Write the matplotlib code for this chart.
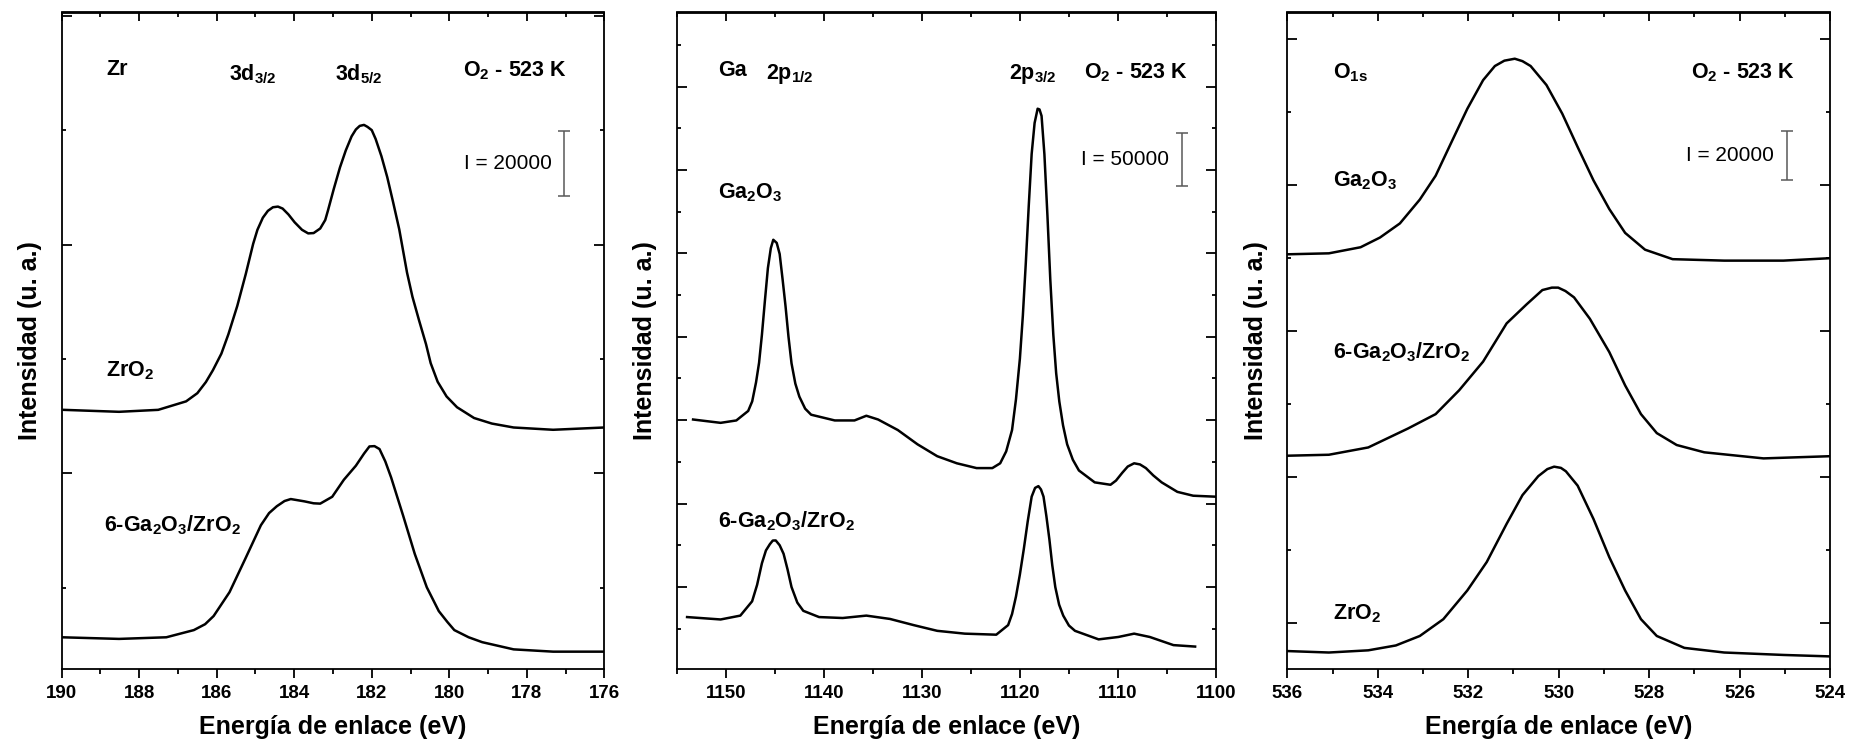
import matplotlib
matplotlib.use('Agg')
import matplotlib.pyplot as plt
from matplotlib.ticker import MultipleLocator

plt.rcParams['font.family'] = ['Liberation Sans', 'DejaVu Sans']
plt.rcParams['font.weight'] = 'bold'
plt.rcParams['mathtext.fontset'] = 'custom'
plt.rcParams['mathtext.rm'] = 'Liberation Sans:bold'
plt.rcParams['mathtext.it'] = 'Liberation Sans:bold'
plt.rcParams['mathtext.bf'] = 'Liberation Sans:bold'
plt.rcParams['mathtext.default'] = 'rm'

# Zr 3d panel (intensity in 1000 counts, curves offset)
zr_ev_zro2 = [189.95, 188.52, 187.51, 186.79, 186.5, 186.28, 186.1, 185.88, 185.7, 185.47,
              185.25, 185.06, 184.95, 184.81, 184.68, 184.55, 184.42, 184.30, 184.15, 183.99,
              183.8, 183.64, 183.5, 183.33, 183.2, 183.13, 182.98, 182.82, 182.67, 182.52,
              182.41, 182.31, 182.2, 182.11, 182.0, 181.9, 181.75, 181.6, 181.45, 181.29,
              181.09, 180.95, 180.78, 180.6, 180.48, 180.3, 180.07, 179.8, 179.36, 178.9,
              178.34, 177.32, 176.0]
zr_int_zro2 = [54.4, 53.8, 54.4, 57.0, 59.5, 62.9, 66.5, 71.6, 77.5, 86.2,
               96.0, 105.2, 109.5, 113.2, 115.3, 116.4, 116.6, 116.0, 114.2, 111.8,
               109.5, 108.4, 108.5, 109.9, 112.5, 115.4, 122.0, 128.6, 133.8, 138.1,
               140.2, 141.3, 141.6, 141.0, 140.0, 137.3, 132.0, 125.6, 118.0, 109.6,
               96.4, 89.0, 81.8, 74.5, 68.7, 63.0, 58.5, 55.2, 51.9, 50.2,
               49.0, 48.3, 49.0]
zr_ev_ga = [190.0, 188.52, 187.30, 186.59, 186.3, 186.08, 185.67, 185.26, 184.86, 184.65,
            184.45, 184.25, 184.09, 183.74, 183.5, 183.33, 183.02, 182.72, 182.41, 182.2,
            182.06, 181.93, 181.80, 181.65, 181.50, 181.19, 180.89, 180.58, 180.27, 180.05,
            179.87, 179.5, 179.15, 178.34, 177.32, 176.0]
zr_int_ga = [-15.2, -15.7, -15.2, -13.0, -11.2, -8.7, -1.4, 8.9, 19.1, 22.8,
             24.9, 26.5, 27.1, 26.4, 25.8, 25.7, 27.8, 33.0, 37.3, 41.0,
             43.2, 43.3, 42.4, 38.6, 33.7, 22.0, 10.3, 0.1, -7.2, -10.5,
             -13.0, -15.2, -16.7, -18.9, -19.6, -19.6]

# Ga 2p panel
ga_ev_ga2o3 = [1153.33, 1150.52, 1148.92, 1147.71, 1147.3, 1146.91, 1146.6, 1146.31, 1146.0, 1145.70,
               1145.4, 1145.15, 1144.8, 1144.50, 1144.2, 1143.90, 1143.6, 1143.29, 1142.9, 1142.49,
               1141.9, 1141.29, 1138.88, 1136.87, 1135.66, 1134.46, 1132.45, 1130.44, 1128.43, 1126.43,
               1124.42, 1122.81, 1122.01, 1121.4, 1120.80, 1120.4, 1120.0, 1119.7, 1119.40, 1119.1,
               1118.80, 1118.5, 1118.19, 1118.0, 1117.79, 1117.5, 1117.19, 1116.9, 1116.59, 1116.3,
               1115.98, 1115.6, 1115.18, 1114.6, 1113.98, 1112.37, 1110.76, 1110.2, 1109.56, 1109.0,
               1108.35, 1107.75, 1107.15, 1106.4, 1105.54, 1103.94, 1102.33, 1100.12]
ga_int_ga2o3 = [200.6, 197.4, 199.7, 208.8, 218.0, 236.2, 255.0, 281.8, 315.0, 345.8,
                365.0, 373.0, 370.0, 359.4, 335.0, 309.2, 280.0, 254.5, 235.0, 222.5,
                211.0, 205.2, 199.7, 199.7, 204.2, 200.6, 190.5, 176.8, 165.4, 158.6,
                154.0, 154.0, 158.6, 170.0, 190.5, 220.0, 259.0, 300.0, 350.3, 405.0,
                455.3, 485.0, 498.7, 498.0, 491.8, 455.0, 396.0, 335.0, 281.8, 245.0,
                217.9, 195.0, 176.8, 162.0, 151.7, 140.3, 138.0, 142.0, 149.5, 155.5,
                158.6, 157.5, 154.0, 147.0, 140.3, 131.2, 127.5, 126.6]
ga_ev_mix = [1153.94, 1150.52, 1148.51, 1147.31, 1146.8, 1146.31, 1145.9, 1145.50, 1145.2, 1144.90,
             1144.5, 1144.10, 1143.7, 1143.29, 1142.7, 1142.09, 1140.48, 1138.07, 1135.66, 1133.25,
             1130.84, 1128.43, 1125.62, 1122.41, 1121.20, 1120.8, 1120.40, 1120.0, 1119.60, 1119.2,
             1118.80, 1118.45, 1118.11, 1117.85, 1117.59, 1117.3, 1116.99, 1116.7, 1116.39, 1116.0,
             1115.58, 1115.0, 1114.38, 1111.97, 1109.96, 1108.35, 1106.75, 1104.34, 1102.13]
ga_int_mix = [11.1, 8.8, 12.5, 26.2, 42.0, 62.7, 75.0, 81.0, 84.5, 84.6,
              80.0, 71.8, 57.0, 39.9, 25.0, 17.1, 11.1, 10.2, 12.5, 9.3,
              3.4, -2.1, -4.8, -5.8, 3.4, 14.0, 30.8, 52.0, 76.4, 103.0,
              126.6, 135.0, 136.7, 133.5, 126.6, 108.0, 85.5, 61.0, 39.9, 23.0,
              12.5, 3.0, -2.1, -10.3, -8.0, -4.8, -8.0, -15.8, -17.2]

# O 1s panel
o_ev_ga2o3 = [536.0, 535.08, 534.38, 533.95, 533.51, 533.07, 532.72, 532.37, 532.02, 531.67,
              531.41, 531.2, 530.97, 530.8, 530.62, 530.27, 529.92, 529.58, 529.23, 528.88,
              528.53, 528.09, 527.48, 526.34, 525.03, 524.0]
o_int_ga2o3 = [151.6, 152.0, 154.5, 158.5, 164.3, 174.1, 183.9, 197.7, 211.4, 223.2,
               229.0, 231.2, 232.0, 231.0, 229.0, 221.2, 209.4, 195.7, 182.0, 170.2,
               160.4, 153.5, 149.6, 149.0, 149.0, 150.0]
o_ev_mix = [536.0, 535.08, 534.21, 533.33, 532.72, 532.20, 531.67, 531.15, 530.71, 530.36,
            530.15, 530.01, 529.85, 529.66, 529.31, 528.88, 528.53, 528.18, 527.83, 527.39,
            526.78, 525.47, 524.0]
o_int_mix = [68.8, 69.2, 72.2, 80.0, 85.9, 95.7, 107.5, 123.2, 131.0, 136.9,
             137.9, 137.9, 136.5, 133.9, 125.1, 111.4, 97.7, 85.9, 78.1, 73.2,
             70.2, 67.7, 68.6]
o_ev_zro2 = [536.0, 535.08, 534.21, 533.60, 533.07, 532.55, 532.02, 531.59, 531.15, 530.80,
             530.45, 530.25, 530.10, 529.95, 529.84, 529.58, 529.23, 528.88, 528.53, 528.18,
             527.83, 527.22, 526.34, 525.03, 524.0]
o_int_zro2 = [-11.5, -12.1, -11.2, -9.2, -5.3, 1.6, 13.4, 25.1, 40.8, 52.6,
              60.4, 63.3, 64.3, 63.8, 62.4, 56.5, 42.8, 27.1, 13.4, 1.6,
              -5.3, -10.2, -12.1, -13.1, -13.7]

# intensity scale bars: (x position, centre, half length)
bar_zr = (177.04, 129.8, 10)
bar_ga = (1103.5, 450.0, 25)
bar_o = (524.96, 192.3, 10)

W, H = 1850, 747
fig = plt.figure(figsize=(W / 100, H / 100), dpi=100)
bottom = (H - 669.3) / H
height = (669.3 - 12.5) / H
ax1 = fig.add_axes([61.7 / W, bottom, (604.3 - 61.7) / W, height])
ax2 = fig.add_axes([676.7 / W, bottom, (1216 - 676.7) / W, height])
ax3 = fig.add_axes([1287.3 / W, bottom, (1830 - 1287.3) / W, height])


def style_axis(ax, xlim, xmaj, xmin, ylim, ymaj, ymin, yoff):
    ax.set_xlim(*xlim)
    ax.set_ylim(*ylim)
    ax.xaxis.set_major_locator(MultipleLocator(xmaj))
    ax.xaxis.set_minor_locator(MultipleLocator(xmin))
    ax.yaxis.set_major_locator(MultipleLocator(ymaj, offset=yoff))
    ax.yaxis.set_minor_locator(MultipleLocator(ymin))
    ax.tick_params(axis='x', which='both', direction='out', top=False, width=1.3,
                   labelsize=13.5, pad=5)
    ax.tick_params(axis='x', which='major', length=6.5)
    ax.tick_params(axis='x', which='minor', length=3.3)
    ax.tick_params(axis='y', which='both', direction='in', left=True, right=True,
                   labelleft=False, width=1.3)
    ax.tick_params(axis='y', which='major', length=7)
    ax.tick_params(axis='y', which='minor', length=3.2)
    for lab in ax.get_xticklabels():
        lab.set_fontweight('bold')
    top = ax.secondary_xaxis('top')
    top.xaxis.set_major_locator(MultipleLocator(xmaj))
    top.xaxis.set_minor_locator(MultipleLocator(xmin))
    top.tick_params(axis='x', which='both', direction='in', labeltop=False, width=1.3)
    top.tick_params(axis='x', which='major', length=6.5)
    top.tick_params(axis='x', which='minor', length=3.3)
    for sp in list(ax.spines.values()) + list(top.spines.values()):
        sp.set_linewidth(1.3)
    ax.set_xlabel('Energía de enlace (eV)', fontsize=18, fontweight='bold', labelpad=9)
    ax.set_ylabel('Intensidad (u. a.)', fontsize=18, fontweight='bold', labelpad=14)


def scale_bar(ax, bar, label):
    x, yc, half = bar
    ax.errorbar([x], [yc], yerr=[half], fmt='none', ecolor='0.35', elinewidth=1.1,
                capsize=4.5, capthick=1.1)
    ax.annotate(label, (x, yc), xytext=(-9, 0), textcoords='offset points',
                ha='right', va='center', fontsize=15, fontweight='normal')


def put(ax, x, y, s):
    ax.text(x, y, s, transform=ax.transAxes, fontsize=15.5, fontweight='bold',
            ha='left', va='center')


lw = 1.8
kw = dict(color='black', lw=lw, solid_joinstyle='round')

# panel 1: Zr 3d
ax1.plot(zr_ev_zro2, zr_int_zro2, **kw)
ax1.plot(zr_ev_ga, zr_int_ga, **kw)
style_axis(ax1, (190, 176), 2, 1, (-25, 176), 70, 35, 35)
scale_bar(ax1, bar_zr, 'I = 20000')
put(ax1, 0.082, 0.913, 'Zr')
put(ax1, 0.308, 0.906, r'3d$_{3/2}$')
put(ax1, 0.504, 0.906, r'3d$_{5/2}$')
put(ax1, 0.74, 0.911, r'O$_2$ - 523 K')
put(ax1, 0.082, 0.455, r'ZrO$_2$')
put(ax1, 0.078, 0.22, r'6-Ga$_2$O$_3$/ZrO$_2$')

# panel 2: Ga 2p
ax2.plot(ga_ev_ga2o3, ga_int_ga2o3, **kw)
ax2.plot(ga_ev_mix, ga_int_mix, **kw)
style_axis(ax2, (1155, 1100), 10, 5, (-39, 591), 80, 40, 40)
scale_bar(ax2, bar_ga, 'I = 50000')
put(ax2, 0.077, 0.911, 'Ga')
put(ax2, 0.165, 0.906, r'2p$_{1/2}$')
put(ax2, 0.616, 0.906, r'2p$_{3/2}$')
put(ax2, 0.756, 0.909, r'O$_2$ - 523 K')
put(ax2, 0.077, 0.725, r'Ga$_2$O$_3$')
put(ax2, 0.077, 0.225, r'6-Ga$_2$O$_3$/ZrO$_2$')

# panel 3: O 1s
ax3.plot(o_ev_ga2o3, o_int_ga2o3, **kw)
ax3.plot(o_ev_mix, o_int_mix, **kw)
ax3.plot(o_ev_zro2, o_int_zro2, **kw)
style_axis(ax3, (536, 524), 2, 1, (-19, 251), 60, 30, 0)
scale_bar(ax3, bar_o, 'I = 20000')
put(ax3, 0.085, 0.909, r'O$_{1s}$')
put(ax3, 0.743, 0.909, r'O$_2$ - 523 K')
put(ax3, 0.085, 0.744, r'Ga$_2$O$_3$')
put(ax3, 0.085, 0.483, r'6-Ga$_2$O$_3$/ZrO$_2$')
put(ax3, 0.085, 0.084, r'ZrO$_2$')

fig.savefig('out.png', dpi=100)
